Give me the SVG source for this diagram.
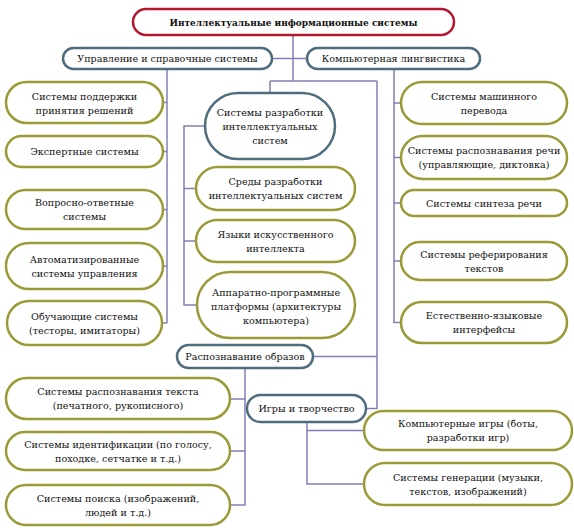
<svg xmlns="http://www.w3.org/2000/svg" width="574" height="532" viewBox="0 0 574 532">
<style>
rect{fill:#fff;stroke-width:2.5}
.top rect{stroke:#b3172f}
.cat rect{stroke:#4f6d7c}
.leaf rect{stroke:#9a9a36}
text{font-family:"DejaVu Serif","Liberation Serif",serif;font-size:9.6px;fill:#111;text-anchor:middle}
.top text{font-weight:bold;font-size:10px}
#connectors path{fill:none;stroke:#8080b6;stroke-width:1.5}
</style>
<rect x="0" y="0" width="574" height="532" style="fill:#fff;stroke:none"/>
<g id="connectors">
<path d="M293 35V81M270 81H377M270 81V93M377 81V408.5H366"/>
<path d="M272 58.5H307"/>
<path d="M167 69V323M163 102.5H167M163 151.5H167M163 209.5H167M163 266H167M162 323H167"/>
<path d="M394 69V322.5H401M394 103H401M394 157.5H401M394 203H401M394 261H401"/>
<path d="M205 126H184V305H197M184 188.5H196M184 241H196"/>
<path d="M313 356.5H377"/>
<path d="M245 368V505H230M230 399H245M230 451H245"/>
<path d="M307 422V484H364M307 430.5H364"/>
</g>
<g id="n-root" class="top"><rect x="133" y="9" width="321" height="26" rx="13"/><text x="293.5" y="25.5" textLength="248" lengthAdjust="spacingAndGlyphs">Интеллектуальные информационные системы</text></g>
<g id="n-upr" class="cat"><rect x="63" y="48" width="209" height="21" rx="10.5"/><text x="167.5" y="62">Управление и справочные системы</text></g>
<g id="n-ling" class="cat"><rect x="307" y="48" width="173" height="21" rx="10.5"/><text x="393.5" y="62">Компьютерная лингвистика</text></g>
<g id="n-dss" class="leaf"><rect x="6" y="82" width="157" height="41" rx="20.5"/><text x="84.5" y="99.5">Системы поддержки</text><text x="84.5" y="113.5">принятия решений</text></g>
<g id="n-exp" class="leaf"><rect x="6" y="136" width="157" height="31" rx="15.5"/><text x="84.5" y="155">Экспертные системы</text></g>
<g id="n-qa" class="leaf"><rect x="6" y="190" width="157" height="39" rx="19.5"/><text x="84.5" y="206">Вопросно-ответные</text><text x="84.5" y="220">системы</text></g>
<g id="n-asu" class="leaf"><rect x="6" y="243" width="157" height="46" rx="23"/><text x="84.5" y="262.5">Автоматизированные</text><text x="84.5" y="276.5">системы управления</text></g>
<g id="n-edu" class="leaf"><rect x="7" y="301" width="155" height="44" rx="22"/><text x="84.5" y="319.5">Обучающие системы</text><text x="84.5" y="333.5">(тесторы, имитаторы)</text></g>
<g id="n-dev" class="cat"><rect x="205" y="93" width="130" height="66" rx="33"/><text x="270" y="116">Системы разработки</text><text x="270" y="130">интеллектуальных</text><text x="270" y="144">систем</text></g>
<g id="n-env" class="leaf"><rect x="196" y="167" width="159" height="43" rx="21.5"/><text x="275.5" y="185">Среды разработки</text><text x="275.5" y="199">интеллектуальных систем</text></g>
<g id="n-lang" class="leaf"><rect x="196" y="220" width="159" height="42" rx="21"/><text x="275.5" y="237.5">Языки искусственного</text><text x="275.5" y="251.5">интеллекта</text></g>
<g id="n-hw" class="leaf"><rect x="197" y="272" width="158" height="66" rx="33"/><text x="276" y="296">Аппаратно-программные</text><text x="276" y="310">платформы (архитектуры</text><text x="276" y="324">компьютера)</text></g>
<g id="n-mt" class="leaf"><rect x="401" y="82" width="166" height="42" rx="21"/><text x="484" y="99.5">Системы машинного</text><text x="484" y="113.5">перевода</text></g>
<g id="n-asr" class="leaf"><rect x="401" y="136" width="166" height="43" rx="21.5"/><text x="484" y="154">Системы распознавания речи</text><text x="484" y="168">(управляющие, диктовка)</text></g>
<g id="n-tts" class="leaf"><rect x="401" y="190" width="166" height="26" rx="13"/><text x="484" y="206.5">Системы синтеза речи</text></g>
<g id="n-sum" class="leaf"><rect x="401" y="242" width="166" height="38" rx="19"/><text x="484" y="257.5">Системы реферирования</text><text x="484" y="271.5">текстов</text></g>
<g id="n-nli" class="leaf"><rect x="401" y="302" width="166" height="41" rx="20.5"/><text x="484" y="319">Естественно-языковые</text><text x="484" y="333">интерфейсы</text></g>
<g id="n-pr" class="cat"><rect x="177" y="345" width="136" height="23" rx="11.5"/><text x="245" y="360">Распознавание образов</text></g>
<g id="n-ocr" class="leaf"><rect x="6" y="378" width="224" height="41" rx="20.5"/><text x="118" y="395">Системы распознавания текста</text><text x="118" y="409">(печатного, рукописного)</text></g>
<g id="n-id" class="leaf"><rect x="6" y="432" width="224" height="38" rx="19"/><text x="118" y="447.5">Системы идентификации (по голосу,</text><text x="118" y="461.5">походке, сетчатке и т.д.)</text></g>
<g id="n-search" class="leaf"><rect x="6" y="485" width="224" height="40" rx="20"/><text x="118" y="501.5">Системы поиска (изображений,</text><text x="118" y="515.5">людей и т.д.)</text></g>
<g id="n-games" class="cat"><rect x="247" y="395" width="119" height="27" rx="13.5"/><text x="306.5" y="412">Игры и творчество</text></g>
<g id="n-cg" class="leaf"><rect x="364" y="411" width="208" height="39" rx="19.5"/><text x="468" y="427">Компьютерные игры (боты,</text><text x="468" y="441">разработки игр)</text></g>
<g id="n-gen" class="leaf"><rect x="364" y="463" width="208" height="42" rx="21"/><text x="468" y="480.5">Системы генерации (музыки,</text><text x="468" y="494.5">текстов, изображений)</text></g>
</svg>
